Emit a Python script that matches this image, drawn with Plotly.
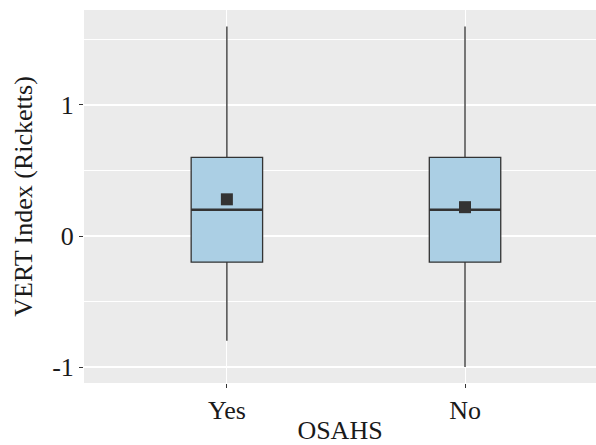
import plotly.graph_objects as go

categories = ["Yes", "No"]
q1 = [-0.2, -0.2]
median = [0.2, 0.2]
q3 = [0.6, 0.6]
lower = [-0.8, -1.0]
upper = [1.6, 1.6]
means = [0.28, 0.22]

FONT = "Liberation Serif"
fill = "#ABCFE4"
line_c = "#333333"
bw = 0.3

fig = go.Figure()
for i, c in enumerate(categories):
    fig.add_trace(go.Box(
        x=[i], q1=[q1[i]], median=[median[i]], q3=[q3[i]],
        lowerfence=[lower[i]], upperfence=[upper[i]],
        width=bw, whiskerwidth=0, fillcolor=fill,
        line=dict(color=line_c, width=1.3), boxpoints=False,
        showlegend=False, hoverinfo="skip", name=c))
    fig.add_trace(go.Scatter(
        x=[i - bw / 2, i + bw / 2], y=[median[i], median[i]], mode="lines",
        line=dict(color=line_c, width=2.6), showlegend=False, hoverinfo="skip"))
fig.add_trace(go.Scatter(
    x=list(range(len(categories))), y=means, mode="markers",
    marker=dict(symbol="square", size=12, color=line_c), showlegend=False,
    hoverinfo="skip"))

fig.update_layout(
    width=596, height=445,
    margin=dict(l=84, r=0, t=10, b=62, autoexpand=False),
    paper_bgcolor="white", plot_bgcolor="#EBEBEB",
    font=dict(family=FONT, size=26, color="#1a1a1a"),
)
fig.update_xaxes(
    range=[-0.6, 1.55], tickvals=[0, 1], ticktext=categories,
    showgrid=True, gridcolor="white", gridwidth=1.4, zeroline=False,
    ticks="outside", ticklen=4, tickcolor="#333333", tickwidth=1.2,
    title=dict(text="OSAHS", standoff=2, font=dict(size=26)),
    tickfont=dict(size=26), automargin=False,
)
fig.update_yaxes(
    range=[-1.122, 1.725], tickvals=[-1, 0, 1], ticktext=["-1", "0", "1"],
    showgrid=True, gridcolor="white", gridwidth=1.6, zeroline=False,
    minor=dict(tickvals=[-0.5, 0.5, 1.5], showgrid=True, gridcolor="white", gridwidth=0.7, ticks=""),
    ticks="outside", ticklen=4, tickcolor="#333333", tickwidth=1.2,
    title=dict(text="VERT Index (Ricketts)", standoff=12, font=dict(size=26)),
    tickfont=dict(size=26), automargin=False,
)

fig.write_html("out.html", config={"displayModeBar": False},
               post_script="document.body.style.margin='0';document.body.style.overflow='hidden';")
